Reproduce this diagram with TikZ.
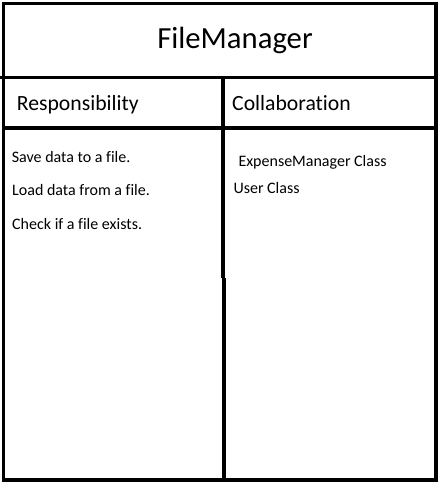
\documentclass[tikz,border=0pt]{standalone}
\usepackage{fontspec}
\setmainfont[Ligatures=NoCommon]{Carlito}
\begin{document}
\begin{tikzpicture}[x=1pt,y=-1pt,
  frame/.style={line width=3.8pt,line cap=rect},
  txt/.style={inner sep=0pt,anchor=base west},
  titletxt/.style={inner sep=0pt,anchor=base,font=\fontsize{30.7}{36}\selectfont},
  headtxt/.style={txt,font=\fontsize{21.7}{25}\selectfont},
  bodytxt/.style={txt,font=\fontsize{16}{19}\selectfont}]
\useasboundingbox[fill=white] (0,0) rectangle (438,486);
% frame
\draw[frame] (3.4,3.5) rectangle (436.2,480.3);
\draw[frame] (1,77.5) -- (436.2,77.5);
\draw[frame] (3.4,128) -- (436.2,128);
\draw[frame,line cap=butt] (222.8,77.5) -- (222.8,278);
\draw[frame,line cap=butt] (223.8,278) -- (223.8,482);
% texts
\node[titletxt] (title) at (235,49) {FileManager};
\node[headtxt] (resp) at (16.7,111) {Responsibility};
\node[headtxt] (coll) at (232,111) {Collaboration};
\node[bodytxt] (r1) at (11.7,162.7) {Save data to a file.};
\node[bodytxt] (r2) at (12,195.7) {Load data from a file.};
\node[bodytxt] (r3) at (12,229) {Check if a file exists.};
\node[bodytxt] (c1) at (238.3,166.7) {ExpenseManager Class};
\node[bodytxt] (c2) at (233.3,193.3) {User Class};
\end{tikzpicture}
\end{document}
